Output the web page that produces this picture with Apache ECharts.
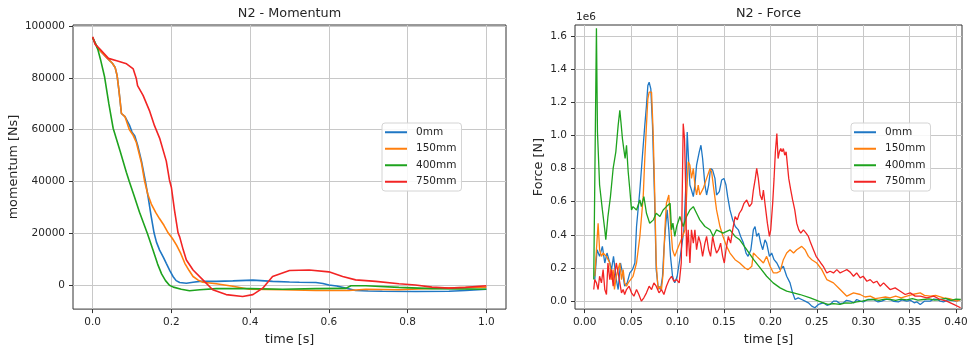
<!DOCTYPE html>
<html><head><meta charset="utf-8">
<script src="https://cdn.jsdelivr.net/npm/echarts@6/dist/echarts.min.js"></script>
<style>html,body{margin:0;padding:0;background:#fff}#c{width:971px;height:351px}</style>
</head><body><div id="c"></div>
<script>
const seriesNames = ['0mm', '150mm', '400mm', '750mm'];
const seriesColors = ['#1f77c4', '#ff7f0e', '#1ea31e', '#f22424'];
const momentumXTicks = [0, 0.2, 0.4, 0.6, 0.8, 1.0];
const momentumYTicks = [0, 20000, 40000, 60000, 80000, 100000];
const forceXTicks = [0, 0.05, 0.10, 0.15, 0.20, 0.25, 0.30, 0.35, 0.40];
const forceYTicks = [0, 0.2, 0.4, 0.6, 0.8, 1.0, 1.2, 1.4, 1.6];

// Momentum [Ns] vs time [s]
const mom0mm = [[0,95500],[0.006,93500],[0.013,91500],[0.02,90300],[0.035,87900],[0.05,85600],[0.057,84000],[0.062,80900],[0.066,76000],[0.069,72000],[0.073,66200],[0.082,65000],[0.094,61500],[0.1,59000],[0.107,57500],[0.115,53500],[0.124,47800],[0.134,40000],[0.141,33800],[0.148,27000],[0.156,20000],[0.162,16500],[0.17,13400],[0.18,10500],[0.187,8300],[0.196,5500],[0.204,3200],[0.212,1600],[0.221,900],[0.238,600],[0.255,1000],[0.272,1300],[0.314,1300],[0.356,1500],[0.407,1800],[0.457,1300],[0.5,1100],[0.525,1000],[0.567,900],[0.585,500],[0.6,-100],[0.62,-500],[0.643,-1300],[0.668,-2200],[0.7,-2400],[0.736,-2500],[0.82,-2600],[0.905,-2500],[0.947,-2200],[1.0,-1700]];
const mom150mm = [[0,95500],[0.006,93500],[0.013,91500],[0.02,90300],[0.035,87900],[0.05,85600],[0.057,84000],[0.062,80900],[0.066,76000],[0.069,72000],[0.073,66200],[0.082,65000],[0.093,60000],[0.102,58000],[0.111,55000],[0.124,47000],[0.132,40000],[0.14,35000],[0.149,31200],[0.16,28000],[0.17,25500],[0.181,23000],[0.192,20000],[0.203,17800],[0.213,15300],[0.224,12000],[0.234,8300],[0.245,5500],[0.255,3200],[0.268,1800],[0.28,1000],[0.314,400],[0.356,-600],[0.398,-1700],[0.483,-1900],[0.567,-2200],[0.651,-2200],[0.694,-1700],[0.778,-1900],[0.862,-1400],[1.0,-900]];
const mom400mm = [[0,95500],[0.006,93500],[0.013,91000],[0.02,87000],[0.03,80500],[0.041,70000],[0.052,60500],[0.07,51500],[0.0855,43500],[0.0928,40000],[0.105,34500],[0.119,28000],[0.139,19800],[0.153,13500],[0.165,8000],[0.175,4200],[0.185,1600],[0.195,-200],[0.205,-900],[0.225,-1700],[0.246,-2300],[0.272,-1900],[0.314,-1500],[0.398,-1500],[0.483,-1700],[0.567,-1500],[0.643,-1400],[0.656,-400],[0.694,-400],[0.778,-1000],[0.862,-1500],[1.0,-1700]];
const mom750mm = [[0,95900],[0.006,93000],[0.019,91000],[0.04,87500],[0.061,86600],[0.086,85400],[0.103,83400],[0.111,79600],[0.114,77000],[0.128,73200],[0.145,67000],[0.157,61500],[0.17,56700],[0.187,47800],[0.195,40500],[0.2,37600],[0.208,28700],[0.217,20000],[0.221,18500],[0.23,13500],[0.238,9550],[0.255,5700],[0.28,1900],[0.305,-1900],[0.339,-3800],[0.381,-4500],[0.407,-3800],[0.432,-1300],[0.457,3200],[0.5,5500],[0.55,5700],[0.6,5000],[0.635,3200],[0.668,1900],[0.719,1300],[0.778,400],[0.82,-100],[0.862,-900],[0.905,-1300],[0.947,-1000],[1.0,-400]];

// Force [1e6 N] vs time [s]
const force0mm = [[0.0108,0.13],[0.0133,0.31],[0.016,0.27],[0.019,0.33],[0.0216,0.23],[0.024,0.29],[0.027,0.23],[0.0288,0.19],[0.031,0.27],[0.034,0.13],[0.036,0.07],[0.0385,0.23],[0.0414,0.15],[0.043,0.09],[0.0457,0.11],[0.0486,0.17],[0.0514,0.19],[0.054,0.23],[0.0558,0.45],[0.0594,0.67],[0.0622,0.88],[0.0647,1.06],[0.0665,1.18],[0.068,1.30],[0.0694,1.32],[0.0712,1.28],[0.073,1.06],[0.0752,0.63],[0.077,0.19],[0.079,0.09],[0.0817,0.07],[0.0838,0.15],[0.0853,0.31],[0.0874,0.47],[0.0888,0.55],[0.0906,0.43],[0.0924,0.27],[0.0946,0.15],[0.097,0.11],[0.0996,0.15],[0.1018,0.23],[0.104,0.31],[0.1068,0.43],[0.109,0.70],[0.1104,1.02],[0.1118,0.86],[0.1133,0.70],[0.115,0.67],[0.117,0.63],[0.1187,0.70],[0.1205,0.82],[0.1234,0.90],[0.1252,0.94],[0.127,0.86],[0.1295,0.70],[0.1313,0.64],[0.1335,0.70],[0.1356,0.80],[0.1378,0.79],[0.1403,0.74],[0.142,0.64],[0.145,0.66],[0.1475,0.73],[0.15,0.74],[0.1522,0.70],[0.154,0.63],[0.1565,0.55],[0.1594,0.49],[0.1622,0.45],[0.1655,0.43],[0.168,0.39],[0.171,0.35],[0.1738,0.29],[0.176,0.27],[0.179,0.31],[0.1817,0.43],[0.1835,0.45],[0.1853,0.39],[0.1874,0.41],[0.1896,0.35],[0.1918,0.31],[0.1942,0.37],[0.196,0.35],[0.199,0.27],[0.2014,0.29],[0.204,0.25],[0.207,0.23],[0.2105,0.19],[0.214,0.21],[0.2176,0.15],[0.2212,0.11],[0.224,0.05],[0.2266,0.01],[0.230,0.02],[0.2338,0.01],[0.2374,0.00],[0.241,-0.01],[0.2446,-0.03],[0.248,-0.04],[0.2518,-0.02],[0.257,-0.01],[0.261,-0.025],[0.2644,-0.02],[0.268,0.0],[0.2716,0.00],[0.275,-0.015],[0.2788,-0.01],[0.282,0.005],[0.286,0.00],[0.29,-0.01],[0.293,0.01],[0.297,0.0],[0.30,-0.005],[0.305,0.01],[0.311,0.01],[0.316,-0.005],[0.32,0.0],[0.325,0.012],[0.329,0.01],[0.333,-0.002],[0.338,-0.005],[0.342,0.008],[0.347,0.00],[0.351,0.005],[0.355,-0.01],[0.358,-0.005],[0.3615,-0.02],[0.366,0.0],[0.3723,0.00],[0.376,0.012],[0.38,0.01],[0.383,0.0],[0.3866,-0.005],[0.391,0.008],[0.395,0.005],[0.40,0.0],[0.405,0.01]];
const force150mm = [[0.0108,0.15],[0.0126,0.31],[0.0144,0.47],[0.016,0.31],[0.018,0.27],[0.0198,0.29],[0.0234,0.27],[0.027,0.23],[0.0288,0.13],[0.0306,0.19],[0.032,0.07],[0.034,0.15],[0.0378,0.23],[0.0396,0.13],[0.0414,0.19],[0.043,0.11],[0.045,0.09],[0.0468,0.11],[0.0486,0.12],[0.052,0.15],[0.0558,0.23],[0.0594,0.39],[0.063,0.63],[0.0647,0.86],[0.0665,1.06],[0.068,1.22],[0.0694,1.26],[0.072,1.26],[0.0737,1.02],[0.0755,0.63],[0.077,0.23],[0.079,0.07],[0.081,0.09],[0.0827,0.07],[0.0845,0.17],[0.0863,0.43],[0.088,0.59],[0.0906,0.64],[0.0924,0.47],[0.0946,0.31],[0.097,0.27],[0.0996,0.31],[0.1025,0.35],[0.1054,0.39],[0.108,0.43],[0.1097,0.63],[0.1115,0.84],[0.1133,0.82],[0.115,0.74],[0.117,0.80],[0.1187,0.70],[0.1205,0.64],[0.1223,0.70],[0.124,0.64],[0.1277,0.68],[0.1313,0.74],[0.135,0.80],[0.1367,0.78],[0.1385,0.70],[0.142,0.55],[0.1457,0.45],[0.149,0.39],[0.1529,0.33],[0.1565,0.29],[0.162,0.25],[0.167,0.23],[0.1727,0.20],[0.176,0.19],[0.180,0.21],[0.1817,0.29],[0.1853,0.27],[0.189,0.25],[0.1925,0.23],[0.196,0.27],[0.1997,0.21],[0.2033,0.17],[0.207,0.17],[0.2105,0.18],[0.214,0.25],[0.2176,0.29],[0.2212,0.31],[0.225,0.29],[0.2284,0.31],[0.2338,0.33],[0.2374,0.31],[0.241,0.27],[0.2446,0.25],[0.25,0.23],[0.2554,0.19],[0.2608,0.13],[0.268,0.11],[0.2752,0.07],[0.2824,0.03],[0.2896,0.05],[0.2968,0.04],[0.302,0.025],[0.3076,0.03],[0.313,0.015],[0.3183,0.02],[0.324,0.025],[0.329,0.02],[0.335,0.03],[0.341,0.02],[0.347,0.03],[0.353,0.04],[0.3615,0.05],[0.366,0.035],[0.3723,0.03],[0.378,0.035],[0.3866,0.02],[0.393,0.015],[0.401,0.00],[0.405,0.01]];
const force400mm = [[0.0097,0.13],[0.0126,1.645],[0.0137,1.02],[0.016,0.70],[0.019,0.55],[0.0216,0.43],[0.0227,0.37],[0.025,0.51],[0.0277,0.63],[0.0306,0.80],[0.0335,0.90],[0.036,1.06],[0.0378,1.15],[0.039,1.08],[0.0406,0.98],[0.042,0.92],[0.0435,0.86],[0.045,0.94],[0.0468,0.78],[0.0486,0.67],[0.0504,0.55],[0.052,0.57],[0.0558,0.55],[0.0594,0.61],[0.061,0.57],[0.0637,0.63],[0.0665,0.53],[0.070,0.47],[0.074,0.49],[0.077,0.53],[0.081,0.51],[0.0845,0.55],[0.088,0.57],[0.092,0.59],[0.0935,0.43],[0.095,0.47],[0.097,0.39],[0.099,0.45],[0.1025,0.51],[0.106,0.45],[0.1097,0.51],[0.1133,0.55],[0.117,0.57],[0.1205,0.53],[0.124,0.49],[0.1295,0.45],[0.135,0.43],[0.1385,0.39],[0.142,0.43],[0.149,0.41],[0.1565,0.43],[0.162,0.39],[0.167,0.37],[0.1745,0.31],[0.182,0.25],[0.189,0.20],[0.196,0.15],[0.203,0.11],[0.2105,0.08],[0.2176,0.06],[0.225,0.05],[0.232,0.04],[0.243,0.02],[0.252,0.00],[0.257,-0.01],[0.262,-0.02],[0.268,-0.015],[0.275,-0.02],[0.281,-0.01],[0.287,-0.012],[0.293,-0.005],[0.299,0.0],[0.305,0.008],[0.311,0.01],[0.317,0.005],[0.323,0.012],[0.329,0.01],[0.335,0.004],[0.341,0.012],[0.347,0.008],[0.353,0.015],[0.359,0.006],[0.365,0.01],[0.371,0.014],[0.377,0.006],[0.383,0.01],[0.389,0.016],[0.395,0.004],[0.40,0.012],[0.405,0.01]];
const force750mm = [[0.0097,0.07],[0.0108,0.13],[0.0126,0.11],[0.0144,0.07],[0.016,0.15],[0.018,0.11],[0.0198,0.19],[0.0216,0.07],[0.0234,0.04],[0.025,0.23],[0.027,0.13],[0.0288,0.19],[0.0306,0.09],[0.032,0.15],[0.034,0.23],[0.036,0.17],[0.0378,0.11],[0.0396,0.05],[0.0414,0.07],[0.043,0.04],[0.045,0.07],[0.0478,0.09],[0.0504,0.05],[0.053,0.03],[0.0558,0.07],[0.0583,0.04],[0.061,0.00],[0.0637,0.02],[0.0665,0.05],[0.0694,0.09],[0.072,0.07],[0.0745,0.11],[0.077,0.09],[0.080,0.05],[0.0827,0.07],[0.0853,0.04],[0.088,0.09],[0.091,0.13],[0.0935,0.15],[0.096,0.12],[0.099,0.13],[0.1018,0.11],[0.104,0.23],[0.1061,1.07],[0.1075,0.98],[0.109,0.63],[0.1097,0.27],[0.1115,0.43],[0.1133,0.23],[0.115,0.43],[0.117,0.35],[0.1187,0.43],[0.1205,0.31],[0.1227,0.39],[0.1248,0.35],[0.127,0.27],[0.1295,0.35],[0.1313,0.39],[0.1335,0.31],[0.1356,0.27],[0.1378,0.39],[0.14,0.33],[0.142,0.29],[0.1443,0.31],[0.1464,0.35],[0.1486,0.27],[0.1504,0.23],[0.1522,0.31],[0.1547,0.39],[0.1572,0.35],[0.1594,0.43],[0.162,0.51],[0.1644,0.49],[0.1666,0.53],[0.169,0.55],[0.1716,0.59],[0.1745,0.61],[0.1774,0.57],[0.180,0.59],[0.1817,0.67],[0.1838,0.74],[0.1853,0.80],[0.187,0.74],[0.189,0.64],[0.191,0.61],[0.1925,0.67],[0.1946,0.57],[0.1968,0.47],[0.199,0.39],[0.2004,0.43],[0.2025,0.59],[0.204,0.74],[0.2054,0.90],[0.207,1.01],[0.2083,0.86],[0.2097,0.90],[0.2112,0.92],[0.2126,0.90],[0.214,0.92],[0.2155,0.88],[0.217,0.90],[0.2184,0.82],[0.2198,0.74],[0.222,0.67],[0.224,0.61],[0.2263,0.55],[0.2284,0.47],[0.2306,0.43],[0.2328,0.41],[0.2356,0.43],[0.2385,0.41],[0.241,0.39],[0.2435,0.35],[0.2464,0.31],[0.2493,0.27],[0.2518,0.25],[0.2543,0.23],[0.257,0.21],[0.2608,0.17],[0.2644,0.18],[0.268,0.17],[0.2716,0.19],[0.2752,0.17],[0.2788,0.18],[0.2824,0.19],[0.286,0.175],[0.2896,0.15],[0.293,0.17],[0.2968,0.14],[0.300,0.15],[0.304,0.12],[0.3076,0.13],[0.311,0.11],[0.3147,0.12],[0.3183,0.09],[0.322,0.11],[0.3255,0.09],[0.329,0.07],[0.3345,0.08],[0.34,0.06],[0.3453,0.04],[0.3507,0.05],[0.356,0.03],[0.3615,0.03],[0.3687,0.02],[0.376,0.03],[0.383,0.01],[0.390,0.00],[0.3975,-0.02],[0.405,-0.04]];

const momentumSeries = [mom0mm, mom150mm, mom400mm, mom750mm];
const forceSeries = [force0mm, force150mm, force400mm, force750mm];

const FONT = 'DejaVu Sans';
const TXT = '#262626';

function makeAxis(min, max, ticks, fmt, extra) {
  return Object.assign({
    type: 'value', min: min, max: max,
    axisLine: { show: false, onZero: false },
    axisTick: { show: true, inside: false, length: 4, customValues: ticks, lineStyle: { color: '#333', width: 1 } },
    axisLabel: { customValues: ticks, formatter: fmt, color: TXT, fontSize: 10.5, fontFamily: FONT, margin: 8 },
    splitLine: { show: true, lineStyle: { color: '#c8c8c8', width: 1 } },
    nameTextStyle: { color: TXT, fontSize: 12.8, fontFamily: FONT }
  }, extra || {});
}

const legendCommon = {
  data: seriesNames, orient: 'vertical', top: 123, icon: 'rect',
  itemWidth: 22, itemHeight: 2, itemGap: 4, padding: [3, 5, 3, 3],
  backgroundColor: 'rgba(255,255,255,0.85)', borderColor: '#d4d4d4', borderWidth: 1, borderRadius: 3,
  textStyle: { fontSize: 10.5, fontFamily: FONT, color: TXT, lineHeight: 12.5, padding: [0, 0, 0, 4] }
};

const series = [];
seriesNames.forEach((n, i) => {
  series.push({ name: n, type: 'line', xAxisIndex: 0, yAxisIndex: 0, data: momentumSeries[i], showSymbol: false,
    lineStyle: { width: 1.6, color: seriesColors[i] }, itemStyle: { color: seriesColors[i] }, animation: false });
});
seriesNames.forEach((n, i) => {
  series.push({ name: n, type: 'line', xAxisIndex: 1, yAxisIndex: 1, data: forceSeries[i], showSymbol: false,
    lineStyle: { width: 1.3, color: seriesColors[i] }, itemStyle: { color: seriesColors[i] }, animation: false });
});

const chart = echarts.init(document.getElementById('c'), null, { renderer: 'canvas' });
chart.setOption({
  backgroundColor: '#fff',
  animation: false,
  textStyle: { fontFamily: FONT },
  grid: [
    { left: 73, right: 465, top: 25, bottom: 38, show: true, borderColor: '#333', borderWidth: 1, backgroundColor: 'transparent' },
    { left: 575, right: 9, top: 25, bottom: 38, show: true, borderColor: '#333', borderWidth: 1, backgroundColor: 'transparent' }
  ],
  xAxis: [
    makeAxis(-0.05, 1.05, momentumXTicks, v => v.toFixed(1), { gridIndex: 0, name: 'time [s]', nameLocation: 'middle', nameGap: 21 }),
    makeAxis(-0.0105, 0.4065, forceXTicks, v => v.toFixed(2), { gridIndex: 1, name: 'time [s]', nameLocation: 'middle', nameGap: 21 })
  ],
  yAxis: [
    makeAxis(-9400, 100400, momentumYTicks, v => String(Math.round(v)), { gridIndex: 0, name: 'momentum [Ns]', nameLocation: 'middle', nameGap: 53 }),
    makeAxis(-0.048, 1.665, forceYTicks, v => v.toFixed(1), { gridIndex: 1, name: 'Force [N]', nameLocation: 'middle', nameGap: 30 })
  ],
  legend: [
    Object.assign({}, legendCommon, { left: 382 }),
    Object.assign({}, legendCommon, { left: 851 })
  ],
  graphic: [
    { type: 'text', x: 289.5, y: 13.5, style: { text: 'N2 - Momentum', font: '12.8px "DejaVu Sans"', fill: TXT, textAlign: 'center', textVerticalAlign: 'middle' } },
    { type: 'text', x: 768.5, y: 13.5, style: { text: 'N2 - Force', font: '12.8px "DejaVu Sans"', fill: TXT, textAlign: 'center', textVerticalAlign: 'middle' } },
    { type: 'text', x: 576, y: 17, style: { text: '1e6', font: '10.5px "DejaVu Sans"', fill: TXT, textAlign: 'left', textVerticalAlign: 'middle' } }
  ],
  series: series
});
</script></body></html>
